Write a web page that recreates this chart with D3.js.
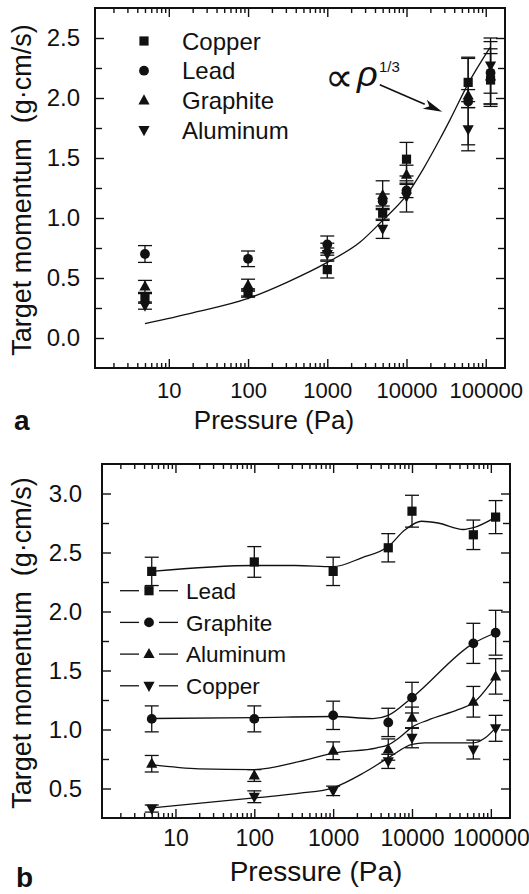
<!DOCTYPE html>
<html><head><meta charset="utf-8">
<script src="https://cdn.jsdelivr.net/npm/d3@7"></script>
<style>
body{margin:0;background:#fff}
svg{display:block}
text{font-family:"Liberation Sans",Arial,Helvetica,sans-serif;fill:#111}
</style>
</head><body>
<svg id="c" width="529" height="894"></svg>
<script>
// ---------- DATA ----------
const pressures = [5, 100, 1000, 5000, 10000, 60000, 115000];
const xMajorTicks = [10, 100, 1000, 10000, 100000];

// Panel a
const aNames = ["Copper", "Lead", "Graphite", "Aluminum"];
const aCopper = [0.33, 0.38, 0.57, 1.04, 1.49, 2.13, 2.15];
const aCopperErr = [0.04, 0.03, 0.07, 0.06, 0.14, 0.21, 0.22];
const aLead = [0.70, 0.66, 0.78, 1.14, 1.23, 1.97, 2.21];
const aLeadErr = [0.07, 0.065, 0.07, 0.06, 0.06, 0.36, 0.26];
const aGraphite = [0.43, 0.44, 0.74, 1.19, 1.36, 2.02, 2.18];
const aGraphiteErr = [0.05, 0.05, 0.05, 0.12, 0.08, 0.05, 0.23];
const aAluminum = [0.27, 0.37, 0.70, 0.91, 1.18, 1.74, 2.27];
const aAluminumErr = [0.03, 0.03, 0.05, 0.08, 0.13, 0.18, 0.23];
const aFitP = [5, 20, 100, 300, 1000, 2600, 5000, 10000, 16300, 26500, 35500, 60000, 113000];
const aFitV = [0.12, 0.21, 0.33, 0.46, 0.63, 0.80, 0.98, 1.19, 1.41, 1.66, 1.82, 2.12, 2.42];
const aYTicks = [0.0, 0.5, 1.0, 1.5, 2.0, 2.5];

// Panel b
const bNames = ["Lead", "Graphite", "Aluminum", "Copper"];
const bLead = [2.34, 2.42, 2.34, 2.54, 2.85, 2.65, 2.80];
const bLeadErr = [0.12, 0.13, 0.12, 0.12, 0.135, 0.125, 0.14];
const bGraphite = [1.09, 1.09, 1.12, 1.06, 1.27, 1.73, 1.82];
const bGraphiteErr = [0.11, 0.11, 0.12, 0.12, 0.13, 0.17, 0.19];
const bAluminum = [0.71, 0.61, 0.82, 0.83, 1.10, 1.235, 1.45];
const bAluminumErr = [0.07, 0.05, 0.075, 0.09, 0.09, 0.13, 0.15];
const bCopper = [0.33, 0.43, 0.48, 0.73, 0.93, 0.83, 1.01];
const bCopperErr = [0.03, 0.05, 0.04, 0.06, 0.085, 0.08, 0.11];
const bLeadFitP = [5, 100, 330, 1000, 2300, 5000, 8100, 13200, 21400, 45000, 60000, 115000];
const bLeadFitV = [2.34, 2.39, 2.39, 2.38, 2.455, 2.55, 2.69, 2.765, 2.75, 2.695, 2.71, 2.80];
const bGraphiteFitP = [5, 100, 1000, 3200, 5000, 10000, 60000, 115000];
const bGraphiteFitV = [1.093, 1.10, 1.11, 1.093, 1.12, 1.27, 1.73, 1.82];
const bAluminumFitP = [5, 20, 100, 380, 1000, 3600, 5000, 7200, 10000, 16000, 39000, 60000, 115000];
const bAluminumFitV = [0.703, 0.667, 0.66, 0.73, 0.80, 0.845, 0.87, 0.94, 1.02, 1.08, 1.17, 1.226, 1.45];
const bCopperFitP = [5, 100, 380, 1000, 2450, 5000, 10000, 14500, 60000, 85000, 115000];
const bCopperFitV = [0.336, 0.42, 0.46, 0.506, 0.633, 0.76, 0.873, 0.887, 0.887, 0.93, 1.014];
const bYTicks = [0.5, 1.0, 1.5, 2.0, 2.5, 3.0];

// ---------- DRAWING ----------
const svg = d3.select("#c");
svg.append("rect").attr("width", 529).attr("height", 894).attr("fill", "#fff");
const INK = "#111";
const xDomain = [1.17, 175000];

function symPath(type) {
  if (type === "square") return "M-4.6,-4.6H4.6V4.6H-4.6Z";
  if (type === "up") return "M0,-6.2L5.6,4.0L-5.6,4.0Z";
  if (type === "down") return "M0,6.2L5.6,-4.0L-5.6,-4.0Z";
  return null;
}
function drawMarker(g, type, x, y) {
  if (type === "circle") {
    g.append("circle").attr("cx", x).attr("cy", y).attr("r", 4.9).attr("fill", INK);
  } else {
    g.append("path").attr("d", symPath(type)).attr("transform", `translate(${x},${y})`).attr("fill", INK);
  }
}

function panel(cfg) {
  const g = svg.append("g");
  const x = d3.scaleLog().domain(xDomain).range([cfg.left, cfg.right]);
  const y = d3.scaleLinear().domain(cfg.yDomain).range([cfg.bottom, cfg.top]);

  const minor = [];
  for (let d = 0; d <= 5; d++) for (let m = 2; m <= 9; m++) {
    const v = m * Math.pow(10, d);
    if (v > xDomain[0] && v < xDomain[1]) minor.push(v);
  }
  const yMinor = [];
  for (let v = cfg.yDomain[0]; v <= cfg.yDomain[1] + 1e-9; v += 0.25) {
    const r = Math.round(v * 100) / 100;
    if (r > cfg.yDomain[0] + 1e-6 && r < cfg.yDomain[1] - 1e-6 && !cfg.yTicks.some(t => Math.abs(t - r) < 1e-6)) yMinor.push(r);
  }

  const styleAxis = sel => { sel.select(".domain").remove(); sel.selectAll("line").attr("stroke", INK).attr("stroke-width", 1.4); };

  g.append("g").attr("transform", `translate(0,${cfg.bottom})`)
    .call(d3.axisBottom(x).tickValues(xMajorTicks).tickFormat(d3.format("d")).tickSize(-9).tickPadding(cfg.xPad))
    .call(styleAxis)
    .call(s => s.selectAll("text").attr("font-size", cfg.xFont).attr("font-family", "Liberation Sans, Arial, sans-serif").attr("fill", INK));
  g.append("g").attr("transform", `translate(0,${cfg.bottom})`)
    .call(d3.axisBottom(x).tickValues(minor).tickFormat("").tickSize(-5)).call(styleAxis);
  g.append("g").attr("transform", `translate(0,${cfg.top})`)
    .call(d3.axisTop(x).tickValues(xMajorTicks).tickFormat("").tickSize(-9)).call(styleAxis);
  g.append("g").attr("transform", `translate(0,${cfg.top})`)
    .call(d3.axisTop(x).tickValues(minor).tickFormat("").tickSize(-5)).call(styleAxis);
  g.append("g").attr("transform", `translate(${cfg.left},0)`)
    .call(d3.axisLeft(y).tickValues(cfg.yTicks).tickFormat(d3.format(".1f")).tickSize(-9).tickPadding(cfg.yPad))
    .call(styleAxis)
    .call(s => s.selectAll("text").attr("font-size", 24).attr("font-family", "Liberation Sans, Arial, sans-serif").attr("fill", INK));
  g.append("g").attr("transform", `translate(${cfg.left},0)`)
    .call(d3.axisLeft(y).tickValues(yMinor).tickFormat("").tickSize(-7)).call(styleAxis);
  g.append("g").attr("transform", `translate(${cfg.right},0)`)
    .call(d3.axisRight(y).tickValues(cfg.yTicks).tickFormat("").tickSize(-9)).call(styleAxis);
  g.append("g").attr("transform", `translate(${cfg.right},0)`)
    .call(d3.axisRight(y).tickValues(yMinor).tickFormat("").tickSize(-7)).call(styleAxis);

  g.append("rect").attr("x", cfg.left).attr("y", cfg.top)
    .attr("width", cfg.right - cfg.left).attr("height", cfg.bottom - cfg.top)
    .attr("fill", "none").attr("stroke", INK).attr("stroke-width", 2);

  const line = d3.line().x(d => x(d[0])).y(d => y(d[1])).curve(d3.curveMonotoneX);
  cfg.fits.forEach(f => {
    g.append("path").attr("d", line(f.p.map((p, i) => [p, f.v[i]])))
      .attr("fill", "none").attr("stroke", INK).attr("stroke-width", 1.3);
  });

  cfg.series.forEach(s => {
    s.v.forEach((v, i) => {
      const px = x(pressures[i]), e = s.e[i];
      const y1 = y(v + e), y2 = y(v - e);
      g.append("line").attr("x1", px).attr("x2", px).attr("y1", y1).attr("y2", y2).attr("stroke", INK).attr("stroke-width", 1.3);
      [y1, y2].forEach(yy => g.append("line").attr("x1", px - 7).attr("x2", px + 7).attr("y1", yy).attr("y2", yy).attr("stroke", INK).attr("stroke-width", 1.3));
    });
  });
  cfg.series.forEach(s => {
    s.v.forEach((v, i) => drawMarker(g, s.sym, x(pressures[i]), y(v)));
  });

  g.append("text").attr("x", cfg.xTitleX).attr("y", cfg.xTitleY).attr("text-anchor", "middle")
    .attr("font-size", cfg.xTitleFont).text("Pressure (Pa)");
  g.append("text").attr("transform", `translate(31,${(cfg.top + cfg.bottom) / 2 + 2}) rotate(-90)`)
    .attr("text-anchor", "middle").attr("font-size", 27).style("white-space", "pre")
    .text("Target momentum\u00a0\u00a0(g\u00b7cm/s)");
  g.append("text").attr("x", cfg.tagX).attr("y", cfg.tagY)
    .attr("font-family", "Liberation Serif, Times New Roman, serif").attr("font-weight", "bold")
    .attr("font-size", 28).text(cfg.tag);
  return { g, x, y };
}

const symA = { Copper: "square", Lead: "circle", Graphite: "up", Aluminum: "down" };
const A = panel({
  left: 95, right: 505, top: 8, bottom: 368, yDomain: [-0.25, 2.75], yTicks: aYTicks,
  xPad: 14, xFont: 22, yPad: 15, xTitleX: 274, xTitleY: 429, xTitleFont: 26,
  tag: "a", tagX: 14, tagY: 430,
  fits: [{ p: aFitP, v: aFitV }],
  series: [
    { sym: "square", v: aCopper, e: aCopperErr },
    { sym: "circle", v: aLead, e: aLeadErr },
    { sym: "up", v: aGraphite, e: aGraphiteErr },
    { sym: "down", v: aAluminum, e: aAluminumErr }
  ]
});
aNames.forEach((n, i) => {
  const yy = 41 + i * 29.7;
  drawMarker(A.g, symA[n], 144, yy);
  A.g.append("text").attr("x", 182).attr("y", yy).attr("dy", "0.36em").attr("font-size", 24).text(n);
});
const ann = A.g.append("g");
ann.append("text").attr("x", 325).attr("y", 91).attr("font-family", "DejaVu Sans, DejaVu Serif, sans-serif")
  .attr("font-size", 40).text("\u221d");
ann.append("text").attr("x", 357).attr("y", 86).attr("font-family", "Liberation Serif, Times New Roman, serif")
  .attr("font-style", "italic").attr("font-size", 36).text("\u03c1");
ann.append("text").attr("x", 379).attr("y", 72).attr("font-family", "Liberation Serif, Times New Roman, serif")
  .attr("font-size", 15).text("1/3");
{
  const x0 = A.x(4600), y0 = A.y(2.11), x1 = A.x(28200), y1 = A.y(1.885);
  const ang = Math.atan2(y1 - y0, x1 - x0), L = 19, Wd = 5;
  const bx = x1 - L * Math.cos(ang), by = y1 - L * Math.sin(ang);
  ann.append("line").attr("x1", x0).attr("y1", y0).attr("x2", bx).attr("y2", by).attr("stroke", INK).attr("stroke-width", 1.6);
  ann.append("path").attr("d", `M${x1},${y1}L${bx + Wd * Math.sin(ang)},${by - Wd * Math.cos(ang)}L${bx + 5 * Math.cos(ang)},${by + 5 * Math.sin(ang)}L${bx - Wd * Math.sin(ang)},${by + Wd * Math.cos(ang)}Z`).attr("fill", INK);
}

const symB = { Lead: "square", Graphite: "circle", Aluminum: "up", Copper: "down" };
const B = panel({
  left: 102, right: 510, top: 464, bottom: 818, yDomain: [0.25, 3.25], yTicks: bYTicks,
  xPad: 12, xFont: 23, yPad: 20, xTitleX: 316, xTitleY: 881, xTitleFont: 28,
  tag: "b", tagX: 16, tagY: 887,
  fits: [
    { p: bLeadFitP, v: bLeadFitV },
    { p: bGraphiteFitP, v: bGraphiteFitV },
    { p: bAluminumFitP, v: bAluminumFitV },
    { p: bCopperFitP, v: bCopperFitV }
  ],
  series: [
    { sym: "square", v: bLead, e: bLeadErr },
    { sym: "circle", v: bGraphite, e: bGraphiteErr },
    { sym: "up", v: bAluminum, e: bAluminumErr },
    { sym: "down", v: bCopper, e: bCopperErr }
  ]
});
bNames.forEach((n, i) => {
  const yy = 590.7 + i * 31.7;
  B.g.append("line").attr("x1", 120).attr("x2", 139).attr("y1", yy).attr("y2", yy).attr("stroke", INK).attr("stroke-width", 1.3);
  B.g.append("line").attr("x1", 159).attr("x2", 178).attr("y1", yy).attr("y2", yy).attr("stroke", INK).attr("stroke-width", 1.3);
  drawMarker(B.g, symB[n], 149, yy);
  B.g.append("text").attr("x", 186).attr("y", yy).attr("dy", "0.36em").attr("font-size", 22.5).text(n);
});
</script>
</body></html>
